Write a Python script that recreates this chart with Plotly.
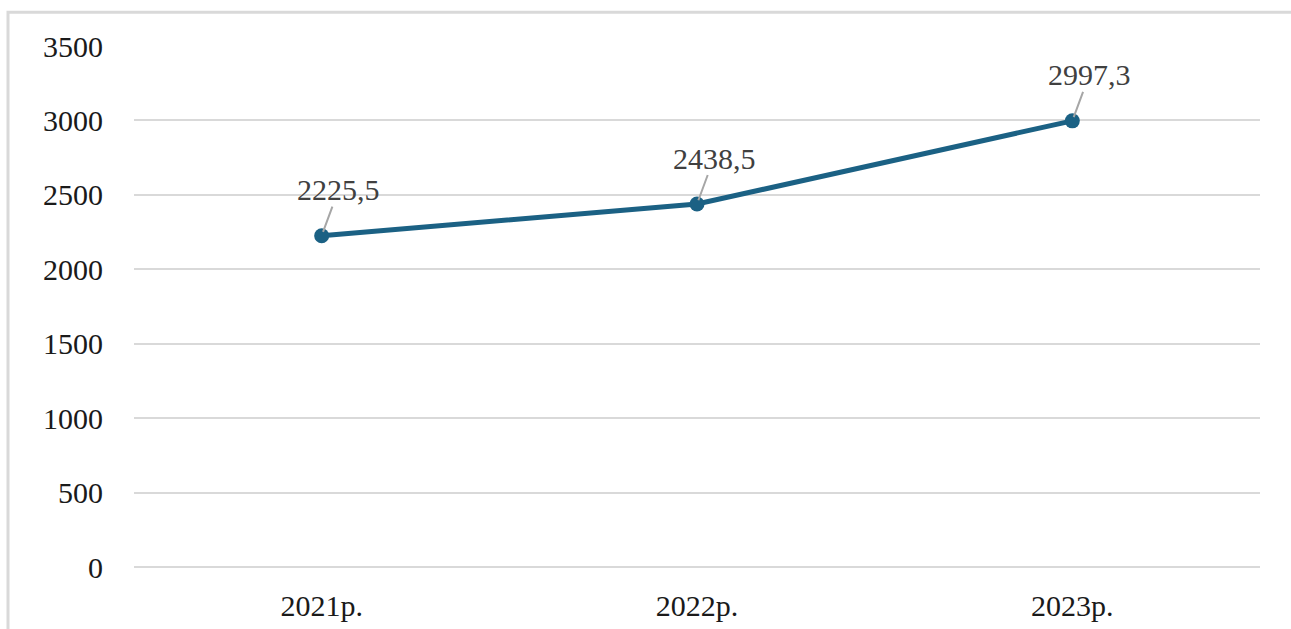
import plotly.graph_objects as go

# Values per year
years = ["2021р.", "2022р.", "2023р."]
values = [2225.5, 2438.5, 2997.3]
value_labels = ["2225,5", "2438,5", "2997,3"]
y_ticks = [0, 500, 1000, 1500, 2000, 2500, 3000, 3500]

LINE_COLOR = "#1b6184"
GRID_COLOR = "#d9d9d9"
FONT = "Liberation Serif"
FONT_SIZE = 30

fig = go.Figure()
fig.add_trace(go.Scatter(
    x=years,
    y=values,
    mode="lines+markers",
    line=dict(color=LINE_COLOR, width=5),
    marker=dict(color=LINE_COLOR, size=15),
    hoverinfo="skip",
    showlegend=False,
))

# Value labels with thin leader lines
for yr, v, txt in zip(years, values, value_labels):
    fig.add_annotation(
        x=yr, y=v, xref="x", yref="y",
        text=txt,
        showarrow=True,
        arrowhead=0,
        arrowwidth=2,
        arrowcolor="#a6a6a6",
        ax=17, ay=-46,
        standoff=4,
        font=dict(family=FONT, size=FONT_SIZE, color="#404040"),
        borderpad=0,
    )

# Light frame around the chart area
fig.add_shape(
    type="rect", xref="paper", yref="paper",
    x0=-0.1119, x1=1.05, y0=-0.2, y1=1.065,
    line=dict(color="#d9d9d9", width=3),
    fillcolor="rgba(0,0,0,0)",
    layer="below",
)

fig.update_layout(
    width=1291, height=629,
    margin=dict(l=134, r=31, t=46, b=62),
    paper_bgcolor="white",
    plot_bgcolor="white",
    font=dict(family=FONT, size=FONT_SIZE, color="#1a1a1a"),
    xaxis=dict(
        type="category",
        range=[-0.5, 2.5],
        automargin=False,
        showgrid=False,
        showline=False,
        zeroline=False,
        ticks="",
        ticklabelstandoff=18,
        tickfont=dict(family=FONT, size=FONT_SIZE, color="#1a1a1a"),
    ),
    yaxis=dict(
        range=[0, 3500],
        tickvals=y_ticks,
        automargin=False,
        showgrid=True,
        gridcolor=GRID_COLOR,
        gridwidth=2,
        zeroline=True,
        zerolinecolor=GRID_COLOR,
        zerolinewidth=2,
        showline=False,
        ticks="",
        ticklabelstandoff=30,
        tickfont=dict(family=FONT, size=FONT_SIZE, color="#1a1a1a"),
    ),
)

fig.write_html("out.html")
